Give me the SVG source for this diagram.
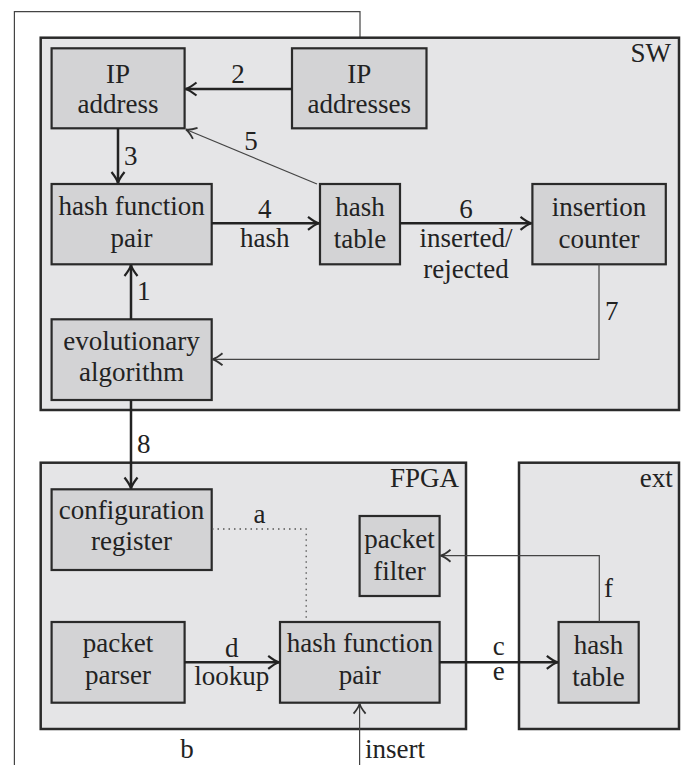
<svg xmlns="http://www.w3.org/2000/svg" width="686" height="765" viewBox="0 0 686 765">
<defs>
<marker id="ah" viewBox="-13 -8 15 16" refX="0" refY="0" markerWidth="15" markerHeight="16" orient="auto" markerUnits="userSpaceOnUse">
<path d="M-11,-6.5 Q-4,-1 0,0 Q-4,1 -11,6.5" fill="none" stroke="#222" stroke-width="2.2"/>
</marker>
<marker id="aht" viewBox="-13 -8 15 16" refX="0" refY="0" markerWidth="15" markerHeight="16" orient="auto" markerUnits="userSpaceOnUse">
<path d="M-10,-6 Q-4,-1 0,0 Q-4,1 -10,6" fill="none" stroke="#333" stroke-width="1.8"/>
</marker>
</defs>

<g id="outer-line">
<path d="M360,48 L360,11.7 L14.4,11.7 L14.4,765" stroke="#444" stroke-width="1.2" fill="none"/>
</g>

<g id="SW">
<rect x="40.7" y="37.7" width="638.3" height="372.3" fill="#e5e5e7" stroke="#2a2a2a" stroke-width="2.5"/>
<text style="font-family:'Liberation Serif',serif;font-size:27px" fill="#222" text-anchor="end" x="671" y="61.7">SW</text>
</g>
<g id="FPGA">
<rect x="40.7" y="462.7" width="425.3" height="266.3" fill="#e5e5e7" stroke="#2a2a2a" stroke-width="2.5"/>
<text style="font-family:'Liberation Serif',serif;font-size:27px" fill="#222" text-anchor="end" x="459" y="486.7">FPGA</text>
</g>
<g id="ext">
<rect x="519" y="462.7" width="160" height="266.3" fill="#e5e5e7" stroke="#2a2a2a" stroke-width="2.5"/>
<text style="font-family:'Liberation Serif',serif;font-size:27px" fill="#222" text-anchor="end" x="672.8" y="486.7">ext</text>
</g>

<g id="ip-address">
<rect x="51.6" y="48.3" width="133" height="80" fill="#d3d3d5" stroke="#2a2a2a" stroke-width="2.2"/>
<text style="font-family:'Liberation Serif',serif;font-size:27px" fill="#222" text-anchor="middle" x="118" y="83">IP</text>
<text style="font-family:'Liberation Serif',serif;font-size:27px" fill="#222" text-anchor="middle" x="118" y="113.3">address</text>
</g>
<g id="ip-addresses">
<rect x="292" y="48.3" width="134.5" height="80" fill="#d3d3d5" stroke="#2a2a2a" stroke-width="2.2"/>
<text style="font-family:'Liberation Serif',serif;font-size:27px" fill="#222" text-anchor="middle" x="359.3" y="83">IP</text>
<text style="font-family:'Liberation Serif',serif;font-size:27px" fill="#222" text-anchor="middle" x="359.3" y="113.3">addresses</text>
</g>
<g id="sw-hash-function-pair">
<rect x="51.6" y="184" width="160.1" height="80.3" fill="#d3d3d5" stroke="#2a2a2a" stroke-width="2.2"/>
<text style="font-family:'Liberation Serif',serif;font-size:27px" fill="#222" text-anchor="middle" x="131.6" y="215">hash function</text>
<text style="font-family:'Liberation Serif',serif;font-size:27px" fill="#222" text-anchor="middle" x="131.6" y="246.7">pair</text>
</g>
<g id="sw-hash-table">
<rect x="320" y="184" width="80" height="80.3" fill="#d3d3d5" stroke="#2a2a2a" stroke-width="2.2"/>
<text style="font-family:'Liberation Serif',serif;font-size:27px" fill="#222" text-anchor="middle" x="360" y="215.5">hash</text>
<text style="font-family:'Liberation Serif',serif;font-size:27px" fill="#222" text-anchor="middle" x="360" y="247.5">table</text>
</g>
<g id="insertion-counter">
<rect x="532.4" y="184" width="133.4" height="80.3" fill="#d3d3d5" stroke="#2a2a2a" stroke-width="2.2"/>
<text style="font-family:'Liberation Serif',serif;font-size:27px" fill="#222" text-anchor="middle" x="599" y="215.5">insertion</text>
<text style="font-family:'Liberation Serif',serif;font-size:27px" fill="#222" text-anchor="middle" x="599" y="247.5">counter</text>
</g>
<g id="evolutionary-algorithm">
<rect x="51.6" y="319.3" width="160.1" height="80.7" fill="#d3d3d5" stroke="#2a2a2a" stroke-width="2.2"/>
<text style="font-family:'Liberation Serif',serif;font-size:27px" fill="#222" text-anchor="middle" x="131.6" y="350">evolutionary</text>
<text style="font-family:'Liberation Serif',serif;font-size:27px" fill="#222" text-anchor="middle" x="131.6" y="380.5">algorithm</text>
</g>
<g id="configuration-register">
<rect x="51.6" y="489.3" width="160.1" height="80.7" fill="#d3d3d5" stroke="#2a2a2a" stroke-width="2.2"/>
<text style="font-family:'Liberation Serif',serif;font-size:27px" fill="#222" text-anchor="middle" x="131.6" y="518.5">configuration</text>
<text style="font-family:'Liberation Serif',serif;font-size:27px" fill="#222" text-anchor="middle" x="131.6" y="550">register</text>
</g>
<g id="packet-filter">
<rect x="359.6" y="516" width="80" height="80" fill="#d3d3d5" stroke="#2a2a2a" stroke-width="2.2"/>
<text style="font-family:'Liberation Serif',serif;font-size:27px" fill="#222" text-anchor="middle" x="399.6" y="548">packet</text>
<text style="font-family:'Liberation Serif',serif;font-size:27px" fill="#222" text-anchor="middle" x="399.6" y="580">filter</text>
</g>
<g id="packet-parser">
<rect x="51.6" y="622" width="133" height="80.7" fill="#d3d3d5" stroke="#2a2a2a" stroke-width="2.2"/>
<text style="font-family:'Liberation Serif',serif;font-size:27px" fill="#222" text-anchor="middle" x="118" y="652">packet</text>
<text style="font-family:'Liberation Serif',serif;font-size:27px" fill="#222" text-anchor="middle" x="118" y="683.5">parser</text>
</g>
<g id="fpga-hash-function-pair">
<rect x="280" y="622" width="159.6" height="80.7" fill="#d3d3d5" stroke="#2a2a2a" stroke-width="2.2"/>
<text style="font-family:'Liberation Serif',serif;font-size:27px" fill="#222" text-anchor="middle" x="359.8" y="652">hash function</text>
<text style="font-family:'Liberation Serif',serif;font-size:27px" fill="#222" text-anchor="middle" x="359.8" y="683.5">pair</text>
</g>
<g id="ext-hash-table">
<rect x="558.6" y="622" width="80.1" height="80.7" fill="#d3d3d5" stroke="#2a2a2a" stroke-width="2.2"/>
<text style="font-family:'Liberation Serif',serif;font-size:27px" fill="#222" text-anchor="middle" x="598.6" y="654">hash</text>
<text style="font-family:'Liberation Serif',serif;font-size:27px" fill="#222" text-anchor="middle" x="598.6" y="686">table</text>
</g>

<g id="connectors">
<line x1="292" y1="89" x2="185.5" y2="89" stroke="#222" stroke-width="2.5" marker-end="url(#ah)"/>
<text style="font-family:'Liberation Serif',serif;font-size:27px" fill="#222" text-anchor="middle" x="238" y="82.7">2</text>
<line x1="118" y1="128.3" x2="118" y2="183" stroke="#222" stroke-width="2.5" marker-end="url(#ah)"/>
<text style="font-family:'Liberation Serif',serif;font-size:27px" fill="#222" x="124" y="165">3</text>
<line x1="317" y1="184" x2="186" y2="129.5" stroke="#444" stroke-width="1.2" marker-end="url(#aht)"/>
<text style="font-family:'Liberation Serif',serif;font-size:27px" fill="#222" text-anchor="middle" x="251" y="150">5</text>
<line x1="211.7" y1="223.3" x2="319" y2="223.3" stroke="#222" stroke-width="2.5" marker-end="url(#ah)"/>
<text style="font-family:'Liberation Serif',serif;font-size:27px" fill="#222" text-anchor="middle" x="264.7" y="217.7">4</text>
<text style="font-family:'Liberation Serif',serif;font-size:27px" fill="#222" text-anchor="middle" x="264.7" y="247.3">hash</text>
<line x1="400" y1="223.3" x2="531.5" y2="223.3" stroke="#222" stroke-width="2.5" marker-end="url(#ah)"/>
<text style="font-family:'Liberation Serif',serif;font-size:27px" fill="#222" text-anchor="middle" x="466" y="217.7">6</text>
<text style="font-family:'Liberation Serif',serif;font-size:27px" fill="#222" text-anchor="middle" x="466" y="247.3">inserted/</text>
<text style="font-family:'Liberation Serif',serif;font-size:27px" fill="#222" text-anchor="middle" x="466" y="278.3">rejected</text>
<line x1="131" y1="319.3" x2="131" y2="265" stroke="#222" stroke-width="2.5" marker-end="url(#ah)"/>
<text style="font-family:'Liberation Serif',serif;font-size:27px" fill="#222" x="137" y="300">1</text>
<path d="M599,264.3 L599,359.3 L212.5,359.3" stroke="#444" stroke-width="1.2" fill="none" marker-end="url(#aht)"/>
<text style="font-family:'Liberation Serif',serif;font-size:27px" fill="#222" x="605" y="320">7</text>
<line x1="131" y1="400" x2="131" y2="488.5" stroke="#222" stroke-width="2.5" marker-end="url(#ah)"/>
<text style="font-family:'Liberation Serif',serif;font-size:27px" fill="#222" x="137" y="453.3">8</text>
<path d="M212,529 L306.2,529 L306.2,621" stroke="#555" stroke-width="1.3" fill="none" stroke-dasharray="1.5 4"/>
<text style="font-family:'Liberation Serif',serif;font-size:27px" fill="#222" text-anchor="middle" x="259.4" y="523.3">a</text>
<path d="M599.3,622 L599.3,555.7 L440.5,555.7" stroke="#444" stroke-width="1.2" fill="none" marker-end="url(#aht)"/>
<text style="font-family:'Liberation Serif',serif;font-size:27px" fill="#222" x="604" y="596.7">f</text>
<line x1="184.6" y1="662.3" x2="279.2" y2="662.3" stroke="#222" stroke-width="2.5" marker-end="url(#ah)"/>
<text style="font-family:'Liberation Serif',serif;font-size:27px" fill="#222" text-anchor="middle" x="231.8" y="656.7">d</text>
<text style="font-family:'Liberation Serif',serif;font-size:27px" fill="#222" text-anchor="middle" x="231.8" y="685">lookup</text>
<line x1="439.6" y1="662.3" x2="557.8" y2="662.3" stroke="#222" stroke-width="2.5" marker-end="url(#ah)"/>
<text style="font-family:'Liberation Serif',serif;font-size:27px" fill="#222" text-anchor="middle" x="498.7" y="655">c</text>
<text style="font-family:'Liberation Serif',serif;font-size:27px" fill="#222" text-anchor="middle" x="498.7" y="680">e</text>
<line x1="359.6" y1="765" x2="359.6" y2="703.6" stroke="#444" stroke-width="1.2" marker-end="url(#aht)"/>
<text style="font-family:'Liberation Serif',serif;font-size:27px" fill="#222" x="365" y="758.3">insert</text>
<text style="font-family:'Liberation Serif',serif;font-size:27px" fill="#222" text-anchor="middle" x="187" y="758.3">b</text>
</g>
</svg>
